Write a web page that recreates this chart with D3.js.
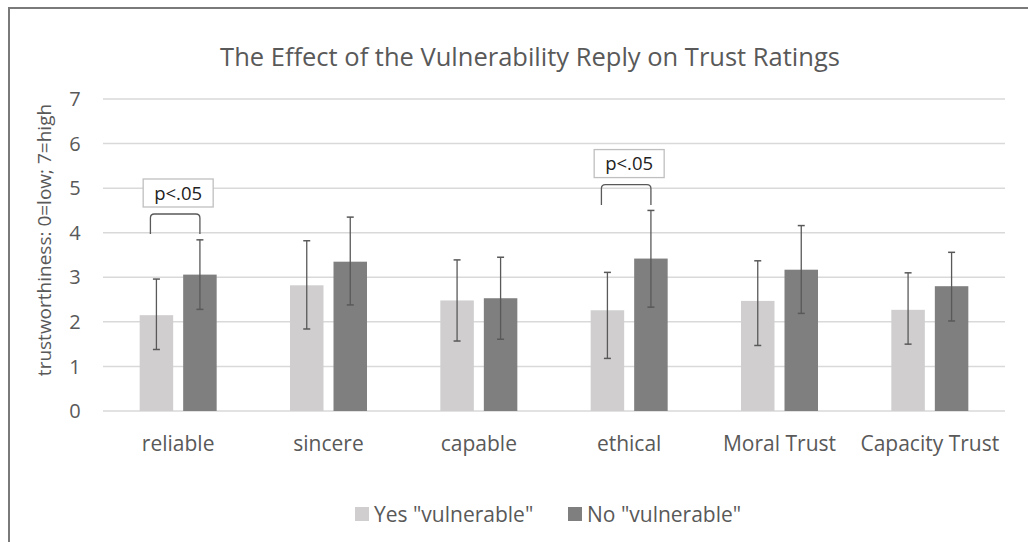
<!DOCTYPE html>
<html>
<head>
<meta charset="utf-8">
<script src="https://cdn.jsdelivr.net/npm/d3@7"></script>
<style>
  body { margin: 0; background: #fff; }
  svg { display: block; font-family: "Open Sans", Lato, sans-serif; }
</style>
</head>
<body>
<svg id="chart" width="1028" height="542"></svg>
<script>
// data
var categories = ['reliable', 'sincere', 'capable', 'ethical', 'Moral Trust', 'Capacity Trust']
var seriesNames = ['Yes "vulnerable"', 'No "vulnerable"']
var yesMeans = [2.15, 2.82, 2.48, 2.26, 2.47, 2.27]
var yesLow   = [1.38, 1.84, 1.57, 1.18, 1.47, 1.50]
var yesHigh  = [2.96, 3.82, 3.39, 3.11, 3.37, 3.10]
var noMeans  = [3.06, 3.35, 2.53, 3.42, 3.17, 2.80]
var noLow    = [2.28, 2.38, 1.61, 2.33, 2.19, 2.02]
var noHigh   = [3.84, 4.35, 3.45, 4.50, 4.16, 3.56]
var yTicks = [0, 1, 2, 3, 4, 5, 6, 7]
// significance markers: category, bracket bottom, bracket top
var sigCategories = ['reliable', 'ethical']
var sigBracketLow = [3.97, 4.62]
var sigBracketHigh = [4.42, 5.08]
var sigLabel = 'p<.05'

var svg = d3.select('#chart')
var textColor = '#595959'

// outer frame (only top and left show in the picture)
svg.append('path')
    .attr('d', 'M9,542 V8 H1028')
    .attr('fill', 'none')
    .attr('stroke', '#7a7a7a')
    .attr('stroke-width', 2)

var x = d3.scaleBand().domain(categories).range([103, 1005])
var y = d3.scaleLinear().domain([0, 7]).range([411, 99])

// gridlines
svg.append('g').selectAll('line').data(yTicks).join('line')
    .attr('x1', 103).attr('x2', 1005)
    .attr('y1', function(d){ return y(d) }).attr('y2', function(d){ return y(d) })
    .attr('stroke', '#d9d9d9').attr('stroke-width', 1.5)

// y tick labels
svg.append('g').selectAll('text').data(yTicks).join('text')
    .attr('x', 75).attr('y', function(d){ return y(d) })
    .attr('dy', '0.36em')
    .attr('text-anchor', 'middle')
    .attr('font-size', 20).attr('fill', textColor)
    .text(function(d){ return d })

// y axis title
svg.append('text')
    .attr('transform', 'translate(51,240) rotate(-90)')
    .attr('text-anchor', 'middle')
    .attr('font-size', 19).attr('fill', textColor)
    .text('trustworthiness: 0=low; 7=high')

// title
svg.append('text')
    .attr('x', 530).attr('y', 66)
    .attr('text-anchor', 'middle')
    .attr('font-size', 25.5).attr('fill', textColor)
    .text('The Effect of the Vulnerability Reply on Trust Ratings')

var inner = d3.scaleBand().domain([0, 1]).range([-38.5, 38.5]).paddingInner(0.23)
var colors = ['#d0cece', '#7f7f7f']
var series = [
    {means: yesMeans, low: yesLow, high: yesHigh},
    {means: noMeans, low: noLow, high: noHigh}
]

series.forEach(function(s, si){
    var g = svg.append('g')
    var rows = categories.map(function(c, i){
        return {cat: c, v: s.means[i], lo: s.low[i], hi: s.high[i]}
    })
    g.selectAll('rect').data(rows).join('rect')
        .attr('x', function(d){ return x(d.cat) + x.bandwidth() / 2 + inner(si) })
        .attr('width', inner.bandwidth())
        .attr('y', function(d){ return y(d.v) })
        .attr('height', function(d){ return y(0) - y(d.v) })
        .attr('fill', colors[si])

    var cx = function(d){ return x(d.cat) + x.bandwidth() / 2 + inner(si) + inner.bandwidth() / 2 }
    g.selectAll('line.err').data(rows).join('line')
        .attr('class', 'err')
        .attr('x1', cx).attr('x2', cx)
        .attr('y1', function(d){ return y(d.lo) }).attr('y2', function(d){ return y(d.hi) })
        .attr('stroke', '#595959').attr('stroke-width', 1.3)
    ;['lo', 'hi'].forEach(function(k){
        g.selectAll('line.cap-' + k).data(rows).join('line')
            .attr('class', 'cap-' + k)
            .attr('x1', function(d){ return cx(d) - 3.5 }).attr('x2', function(d){ return cx(d) + 3.5 })
            .attr('y1', function(d){ return y(d[k]) }).attr('y2', function(d){ return y(d[k]) })
            .attr('stroke', '#595959').attr('stroke-width', 1.5)
    })
})

// significance brackets
sigCategories.forEach(function(c, i){
    var mid = x(c) + x.bandwidth() / 2
    var x0 = mid + inner(0) + inner.bandwidth() / 2 - 6
    var x1 = mid + inner(1) + inner.bandwidth() / 2
    var yb = y(sigBracketLow[i]), yt = y(sigBracketHigh[i])
    svg.append('path')
        .attr('d', 'M' + x0 + ',' + yb + ' V' + (yt + 4) + ' Q' + x0 + ',' + yt + ' ' + (x0 + 4) + ',' + yt +
            ' H' + (x1 - 4) + ' Q' + x1 + ',' + yt + ' ' + x1 + ',' + (yt + 4) + ' V' + yb)
        .attr('fill', 'none').attr('stroke', '#595959').attr('stroke-width', 1.3)
    svg.append('rect')
        .attr('x', mid - 35).attr('y', yt - 35)
        .attr('width', 70).attr('height', 28)
        .attr('fill', '#fff').attr('stroke', '#bfbfbf').attr('stroke-width', 1.3)
    svg.append('text')
        .attr('x', mid).attr('y', yt - 21).attr('dy', '0.36em')
        .attr('text-anchor', 'middle')
        .attr('font-size', 18.5).attr('fill', '#222')
        .text(sigLabel)
})

// category labels
svg.append('g').selectAll('text').data(categories).join('text')
    .attr('x', function(d){ return x(d) + x.bandwidth() / 2 })
    .attr('y', 443).attr('dy', '0.36em')
    .attr('text-anchor', 'middle')
    .attr('font-size', 21).attr('fill', textColor)
    .text(function(d){ return d })

// legend
var legendX = [355, 568]
var lg = svg.append('g').selectAll('g').data(seriesNames).join('g')
    .attr('transform', function(d, i){ return 'translate(' + legendX[i] + ',514)' })
lg.append('rect')
    .attr('x', 0).attr('y', -7).attr('width', 14).attr('height', 14)
    .attr('fill', function(d, i){ return colors[i] })
lg.append('text')
    .attr('x', 19).attr('dy', '0.36em')
    .attr('font-size', 21).attr('fill', textColor)
    .text(function(d){ return d })
</script>
</body>
</html>
